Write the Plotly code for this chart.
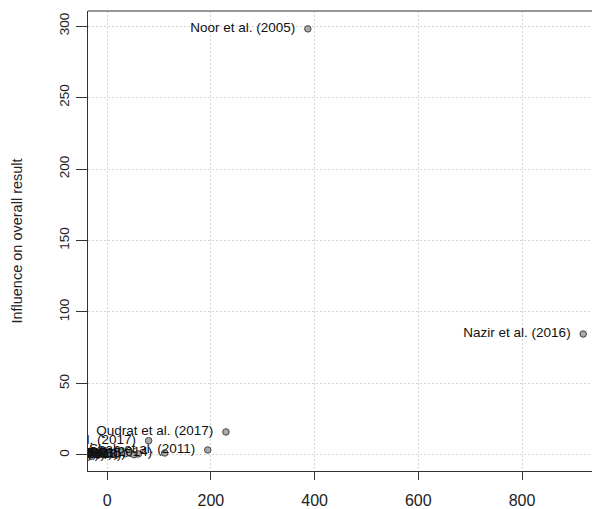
import plotly.graph_objects as go

# Baujat plot data (x: contribution to heterogeneity, y: influence on overall result)
studies = [
    "Noor et al. (2005)", "Nazir et al. (2016)", "Qudrat et al. (2017)",
    "Khan et al. (2017)", "Shah et al. (2011)", "Ali et al. (2014)",
    "Ahmed et al. (2012)", "Raza et al. (2015)", "Iqbal et al. (2013)",
    "Hussain et al. (2018)", "Malik et al. (2010)", "Butt et al. (2016)",
    "Javed et al. (2019)", "Akhtar et al. (2009)", "Rehman et al. (2014)",
    "Saleem et al. (2012)", "Bashir et al. (2008)", "Aslam et al. (2013)",
    "Tariq et al. (2015)",
]
heterogeneity = [387, 918, 229, 80, 194, 111,
                 -20, -12, -5, 0, 4, 9, 14, 20, 27, 35, 45, 52, 60]
influence = [298, 84.6, 16.1, 10.0, 3.5, 1.4,
             0.1, 0.3, 0.5, 1.2, 0.8, 0.4, 1.5, 0.6, 2.0, 0.9, 1.1, 0.2, 0.7]

x_ticks = [0, 200, 400, 600, 800]
y_ticks = [0, 50, 100, 150, 200, 250, 300]

font_family = "Liberation Sans, Arial, sans-serif"
labels = [s + "\u00a0\u00a0" for s in studies]

fig = go.Figure()
fig.add_trace(go.Scatter(
    x=heterogeneity, y=influence, mode="markers+text",
    text=labels, textposition="middle left",
    textfont=dict(family=font_family, size=13.5, color="#111111"),
    marker=dict(size=6.5, color="#a9a9a9", line=dict(color="#444444", width=1)),
    cliponaxis=True, showlegend=False, hoverinfo="skip",
))

axis_common = dict(
    showline=True, linecolor="#333333", linewidth=1,
    ticks="outside", tickcolor="#333333", tickwidth=1,
    showgrid=True, gridcolor="#d3d3d3", griddash="2px,2px", gridwidth=1,
    zeroline=False,
)

fig.update_layout(
    width=592, height=509,
    margin=dict(l=88, r=0, t=11, b=38),
    paper_bgcolor="white", plot_bgcolor="white",
    xaxis=dict(range=[-37, 935], tickvals=x_ticks, ticklen=8,
               ticklabelstandoff=7,
               tickfont=dict(family=font_family, size=16, color="#222222"),
               **axis_common),
    yaxis=dict(range=[-11.2, 310.5], tickvals=y_ticks, ticklen=11,
               tickangle=-90, ticklabelstandoff=2,
               tickfont=dict(family=font_family, size=13.5, color="#222222"),
               title=dict(text="Influence on overall result",
                          font=dict(family=font_family, size=14.5, color="#222222"),
                          standoff=30),
               **axis_common),
    shapes=[dict(type="line", xref="paper", yref="paper", x0=0, x1=1, y0=1, y1=1,
                 line=dict(color="#333333", width=1))],
)

fig.write_html("out.html")
